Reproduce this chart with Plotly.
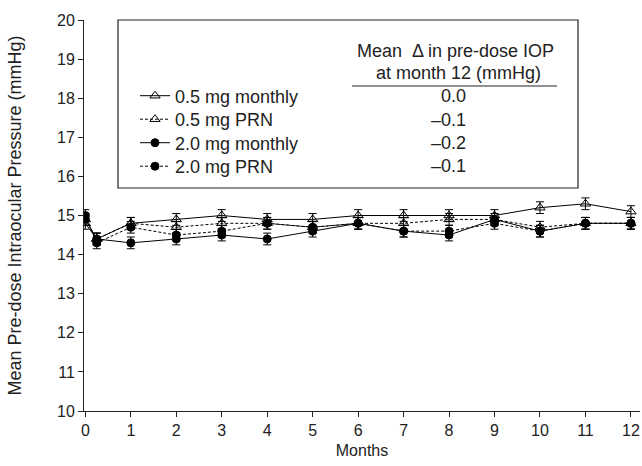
import plotly.graph_objects as go

W, H = 642, 466
months = [0, 0.25, 1, 2, 3, 4, 5, 6, 7, 8, 9, 10, 11, 12]
s05_monthly = [14.8, 14.4, 14.8, 14.9, 15.0, 14.9, 14.9, 15.0, 15.0, 15.0, 15.0, 15.2, 15.3, 15.1]
s05_prn     = [14.9, 14.4, 14.8, 14.7, 14.8, 14.8, 14.7, 14.8, 14.8, 14.9, 14.9, 14.7, 14.8, 14.8]
s20_monthly = [14.9, 14.4, 14.3, 14.4, 14.5, 14.4, 14.6, 14.8, 14.6, 14.5, 14.9, 14.6, 14.8, 14.8]
s20_prn     = [15.0, 14.3, 14.7, 14.5, 14.6, 14.8, 14.7, 14.8, 14.6, 14.6, 14.8, 14.6, 14.8, 14.8]
err = 0.15
series_names = ["0.5 mg monthly", "0.5 mg PRN", "2.0 mg monthly", "2.0 mg PRN"]
delta_values = ["0.0", "\u20130.1", "\u20130.2", "\u20130.1"]
x_ticks = list(range(0, 13))
y_ticks = list(range(10, 21))

FONT = "Liberation Sans, Arial, sans-serif"
TXT = "#222"

styles = [
    dict(symbol="triangle-up-open", dash="solid", size=9),
    dict(symbol="triangle-up-open", dash="3px,2px", size=9),
    dict(symbol="circle", dash="solid", size=8),
    dict(symbol="circle", dash="3px,2px", size=8),
]
data = [s05_monthly, s05_prn, s20_monthly, s20_prn]
legend_ids = ["legend", "legend2", "legend3", "legend4"]

fig = go.Figure()
for name, ys, st, lg in zip(series_names, data, styles, legend_ids):
    fig.add_trace(go.Scatter(
        x=months, y=ys, name=name, mode="lines+markers", legend=lg, showlegend=True,
        line=dict(color="black", width=1, dash=st["dash"]),
        marker=dict(symbol=st["symbol"], size=st["size"], color="black",
                    line=dict(color="black", width=1)),
        error_y=dict(type="constant", value=err, color="black", thickness=1, width=4),
    ))

x0, x1 = 84, 640
y0, y1 = 411, 20
row_y = [96, 119.5, 143, 166.5]

legend_common = dict(xanchor="left", yanchor="middle", bgcolor="rgba(0,0,0,0)",
                     font=dict(size=18, family=FONT, color=TXT), itemwidth=30,
                     borderwidth=0)
legends = {}
for lg, ry in zip(legend_ids, row_y):
    legends[lg] = dict(x=135 / W, y=1 - ry / H, **legend_common)

fig.update_layout(
    width=W, height=H,
    showlegend=True,
    margin=dict(l=0, r=0, t=0, b=0, autoexpand=False),
    paper_bgcolor="white", plot_bgcolor="white",
    font=dict(family=FONT, size=16, color=TXT),
    xaxis=dict(domain=[x0 / W, x1 / W], range=[-0.03, 12.2], automargin=False,
               tickvals=x_ticks, ticks="outside", ticklen=5, tickcolor=TXT,
               tickfont=dict(size=16),
               showline=True, linecolor=TXT, linewidth=1, showgrid=False, zeroline=False,
               title=dict(text="Months", font=dict(size=16), standoff=6)),
    yaxis=dict(domain=[1 - y0 / H, 1 - y1 / H], range=[10, 20], automargin=False,
               tickvals=y_ticks, ticks="outside", ticklen=5, tickcolor=TXT,
               tickfont=dict(size=16),
               showline=True, linecolor=TXT, linewidth=1, showgrid=False, zeroline=False,
               title=dict(text="Mean Pre-dose Intraocular Pressure (mmHg)",
                          font=dict(size=18), standoff=30)),
    **legends,
)

# legend box
fig.add_shape(type="rect", xref="paper", yref="paper",
              x0=118 / W, x1=578 / W, y0=1 - 188 / H, y1=1 - 20 / H,
              line=dict(color=TXT, width=1.2), fillcolor="rgba(0,0,0,0)")
fig.add_shape(type="line", xref="paper", yref="paper",
              x0=352 / W, x1=557 / W, y0=1 - 86 / H, y1=1 - 86 / H,
              line=dict(color=TXT, width=1.2))
fig.add_annotation(xref="paper", yref="paper", x=455 / W, y=1 - 51 / H,
                   xanchor="center", yanchor="middle",
                   text="Mean  \u0394 in pre-dose IOP", showarrow=False, font=dict(size=18))
fig.add_annotation(xref="paper", yref="paper", x=458 / W, y=1 - 73 / H,
                   xanchor="center", yanchor="middle",
                   text="at month 12 (mmHg)", showarrow=False, font=dict(size=18))
for v, ry in zip(delta_values, row_y):
    fig.add_annotation(xref="paper", yref="paper", x=468 / W, y=1 - ry / H,
                       xanchor="right", yanchor="middle",
                       text=v, showarrow=False, font=dict(size=18))

fig.write_html("out.html")
